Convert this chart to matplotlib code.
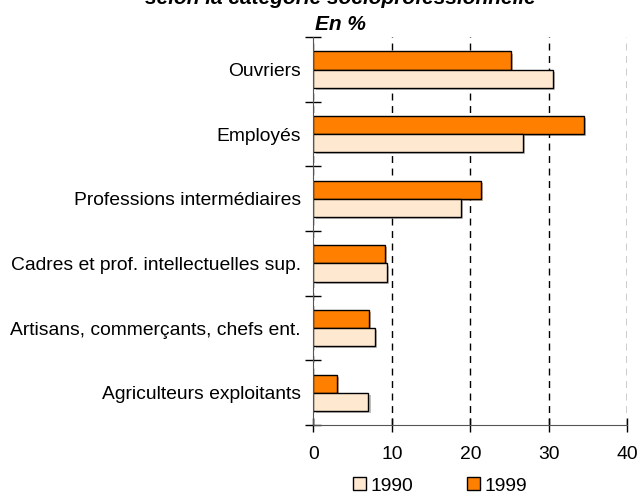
import numpy as np
import matplotlib.pyplot as plt
import matplotlib.patheffects as pe
from matplotlib.patches import Patch

plt.rcParams['font.family'] = ['Liberation Sans', 'DejaVu Sans']

categories = ['Ouvriers', 'Employés', 'Professions intermédiaires',
              'Cadres et prof. intellectuelles sup.',
              'Artisans, commerçants, chefs ent.', 'Agriculteurs exploitants']
val_1990 = [30.5, 26.7, 18.8, 9.4, 7.8, 7.0]
val_1999 = [25.1, 34.4, 21.3, 9.1, 7.1, 3.0]
xticks = [0, 10, 20, 30, 40]

col_1990 = '#FFE8D0'
col_1999 = '#FF8000'
fs = 13.9

fig = plt.figure(figsize=(6.39, 4.96), dpi=100)
ax = fig.add_axes([0.4906, 0.143, 0.4914, 0.782])

y = np.arange(len(categories))
h = 0.28
shadow = [pe.SimplePatchShadow(offset=(1.5, -1.5), alpha=0.35), pe.Normal()]
b1 = ax.barh(y - h / 2, val_1999, height=h, color=col_1999, edgecolor='black', linewidth=1)
b2 = ax.barh(y + h / 2, val_1990, height=h, color=col_1990, edgecolor='black', linewidth=1)
for b in list(b1) + list(b2):
    b.set_path_effects(shadow)

ax.set_xlim(0, 40)
ax.set_ylim(len(categories) - 0.5, -0.5)
ax.set_xticks(xticks)
ax.set_xticklabels([str(t) for t in xticks], fontsize=fs)
ax.set_yticks(y)
ax.set_yticklabels(categories, fontsize=fs)
ax.tick_params(axis='y', which='major', length=0, pad=9)
ax.set_yticks(np.arange(-0.5, len(categories), 1), minor=True)
ax.tick_params(axis='y', which='minor', direction='inout', length=11, width=1)
ax.tick_params(axis='x', direction='inout', length=10, width=1, pad=10)

ax.grid(axis='x', linestyle=(0, (5, 4)), color='black', linewidth=1)
ax.set_axisbelow(True)
for s in ['top', 'right']:
    ax.spines[s].set_visible(False)
ax.spines['left'].set_color('#555555')
ax.spines['bottom'].set_color('#555555')

fig.text(0.532, 1.004, 'selon la catégorie socioprofessionnelle', ha='center', va='center',
         fontsize=15, fontweight='bold', fontstyle='italic')
fig.text(0.532, 0.951, 'En %', ha='center', va='center',
         fontsize=15, fontweight='bold', fontstyle='italic')

handles = [Patch(facecolor=col_1990, edgecolor='black', label='1990'),
           Patch(facecolor=col_1999, edgecolor='black', label='1999')]
fig.legend(handles=handles, loc='center', bbox_to_anchor=(0.689, 0.02), ncol=2,
           frameon=False, fontsize=fs, handlelength=0.65, handleheight=0.65,
           handletextpad=0.25, columnspacing=2.8)

fig.savefig('out.png', dpi=100)
